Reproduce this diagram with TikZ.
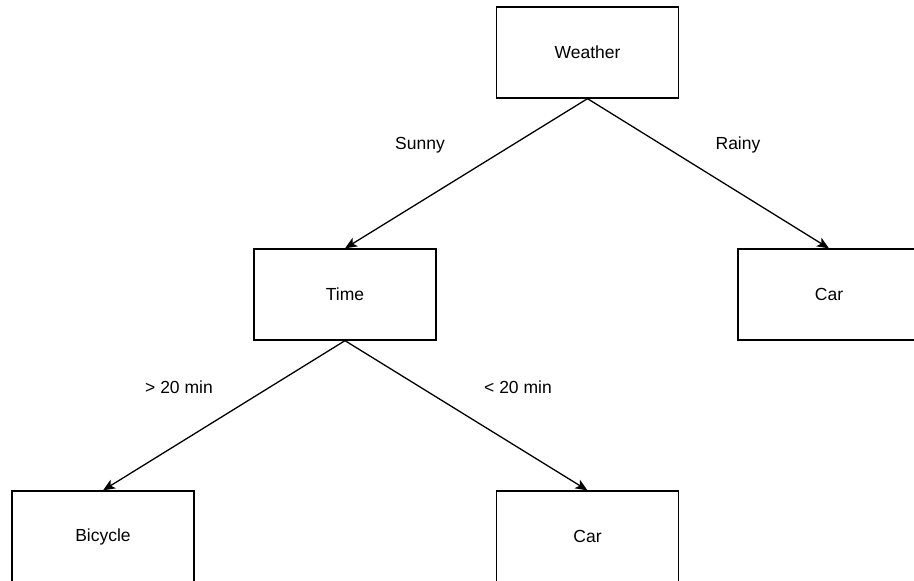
\documentclass[tikz,border=0pt]{standalone}
\usepackage{fontspec}
\setmainfont{Liberation Sans}
\usetikzlibrary{arrows.meta}
\begin{document}
\begin{tikzpicture}[x=1pt,y=-1pt,
  box/.style={draw=black, line width=1.3pt, minimum width=182pt, minimum height=91pt,
    inner sep=0pt, font=\fontsize{17.5}{21}\selectfont},
  lbl/.style={inner sep=0pt, font=\fontsize{17.5}{21}\selectfont},
  link/.style={draw=black, line width=1.3pt,
    -{Stealth[length=12pt,width=10pt,inset=3pt]}}]
  \useasboundingbox (0,0) rectangle (914,581);
  \clip (0,0) rectangle (914,581);
  % decision nodes and leaves
  \node[box] (weather) at (587.5,52.5) {Weather};
  \node[box] (time) at (345,294.5) {Time};
  \node[box] (carA) at (829,294.5) {Car};
  \node[box] (bicycle) at (103,536.5) {Bicycle};
  \node[box] (carB) at (587.5,536.5) {Car};
  % branches
  \draw[link] (weather.south) -- (time.north);
  \draw[link] (weather.south) -- (carA.north);
  \draw[link] (time.south) -- (bicycle.north);
  \draw[link] (time.south) -- (carB.north);
  % branch labels
  \node[lbl] (sunny) at (420,145) {Sunny};
  \node[lbl] (rainy) at (738,145) {Rainy};
  \node[lbl] (gt) at (179,387) {> 20 min};
  \node[lbl] (lt) at (518,387) {< 20 min};
\end{tikzpicture}
\end{document}
